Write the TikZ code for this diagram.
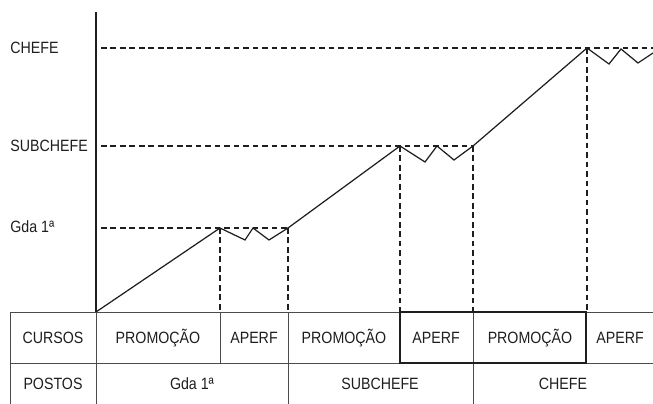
\documentclass[tikz,border=0pt]{standalone}
\usepackage{fontspec}
\setmainfont{Liberation Sans}[FakeStretch=0.87]
\usepackage{tikz}
\usetikzlibrary{positioning}
\definecolor{T}{RGB}{30, 30, 30}

\tikzset{
  guia/.style={dash pattern=on 3.2pt off 2.2pt, line width=0.6pt, color=T},
  curva/.style={line width=0.7pt, color=T},
  grade/.style={line width=0.5pt, color=T!80},
  rotulo/.style={font=\fontsize{9.3}{11}\selectfont, text=T, inner sep=0pt},
}

\begin{document}
\begin{tikzpicture}[x=0.02cm, y=-0.02cm]
	\useasboundingbox (0,0) rectangle (653,404);

	% Eixo vertical
	\draw[line width=1pt, color=T] (96,12) -- (96,312);

	% Postos no eixo
	\node[rotulo, anchor=west] (chefe) at (10,48) {CHEFE};
	\node[rotulo, anchor=west] (subchefe) at (10,146) {SUBCHEFE};
	\node[rotulo, anchor=west] (gda) at (10,227) {Gda 1ª};

	% Linhas de nivel
	\draw[guia] (101,48) -- (653,48);
	\draw[guia] (101,146) -- (473,146);
	\draw[guia] (101,228) -- (288,228);

	% Verticais tracejadas
	\draw[guia] (220,228) -- (220,312);
	\draw[guia] (288,228) -- (288,312);
	\draw[guia] (400,146) -- (400,312);
	\draw[guia] (473,146) -- (473,312);
	\draw[guia] (587,48) -- (587,312);

	% Carreira: promocao e aperfeicoamento
	\draw[curva] (96,312) -- (220,228)
		-- (245,240) -- (253,228) -- (269,240) -- (288,228)
		-- (400,146)
		-- (425,162) -- (437,146) -- (454,160) -- (473,146)
		-- (587,48)
		-- (609,64) -- (621,49) -- (638,63) -- (653,53);

	% Tabela
	\draw[grade] (10,312) -- (653,312);
	\draw[grade] (10,363) -- (653,363);
	\draw[grade] (10,312) -- (10,404);
	\draw[grade] (96,312) -- (96,404);
	\draw[grade] (220,312) -- (220,363);
	\draw[grade] (288,312) -- (288,404);
	\draw[grade] (473,312) -- (473,404);
	\draw[grade] (586,312) -- (586,363);
	\draw[line width=0.8pt, color=T] (400,312) rectangle (586,363);

	% Linha dos cursos
	\node[rotulo] (cursos) at (53,338) {CURSOS};
	\node[rotulo] (promo1) at (158,338) {PROMOÇÃO};
	\node[rotulo] (aperf1) at (254,338) {APERF};
	\node[rotulo] (promo2) at (344,338) {PROMOÇÃO};
	\node[rotulo] (aperf2) at (436,338) {APERF};
	\node[rotulo] (promo3) at (530,338) {PROMOÇÃO};
	\node[rotulo] (aperf3) at (620,338) {APERF};

	% Linha dos postos
	\node[rotulo] (postos) at (53,384) {POSTOS};
	\node[rotulo] (pgda) at (192,384) {Gda 1ª};
	\node[rotulo] (psub) at (380,384) {SUBCHEFE};
	\node[rotulo] (pchefe) at (563,384) {CHEFE};
\end{tikzpicture}
\end{document}
